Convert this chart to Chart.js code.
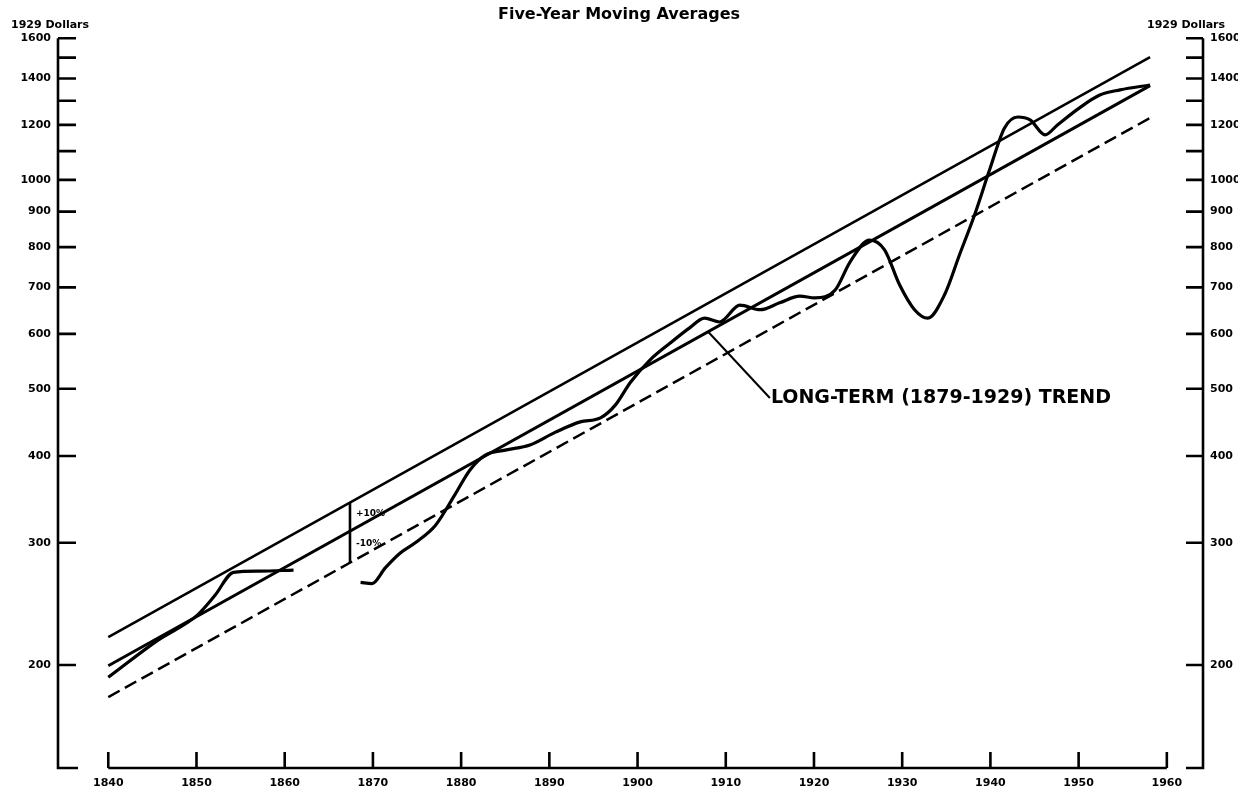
<!DOCTYPE html>
<html>
<head>
<meta charset="utf-8">
<title>Five-Year Moving Averages</title>
<script src="https://cdn.jsdelivr.net/npm/chart.js@4.4.0/dist/chart.umd.min.js"></script>
<style>
  html, body { margin: 0; padding: 0; background: #fff; }
  #wrap { width: 1238px; height: 794px; position: relative; }
</style>
</head>
<body>
<div id="wrap"><canvas id="chart"></canvas></div>
<script>
// five-year moving averages, 1929 dollars
const earlyYears = [1840, 1845.6, 1850.1, 1852.1, 1854.2, 1857.2, 1861.0];
const earlyValues = [192, 217, 236, 252, 272, 273, 274];

const lateYears = [1868.6, 1869.9, 1871.4, 1873.1, 1874.8, 1877.1, 1879.3, 1881.0, 1882.7, 1885.0,
  1887.8, 1890.7, 1893.5, 1895.8, 1897.5, 1899.2, 1901.4, 1903.7, 1905.9, 1907.6,
  1909.3, 1911.6, 1913.9, 1916.1, 1918.4, 1920.1, 1922.4, 1924.1, 1926.3, 1928.0,
  1929.7, 1931.4, 1932.9, 1934.8, 1936.5, 1938.2, 1939.9, 1941.6, 1943.1, 1944.5,
  1946.2, 1947.6, 1950.1, 1952.4, 1954.7, 1958.1];
const lateValues = [263, 262, 276, 290, 300, 318, 352, 382, 401, 408,
  415, 433, 448, 454, 474, 511, 550, 582, 612, 632,
  624, 660, 650, 665, 680, 676, 694, 762, 819, 793,
  706, 650, 632, 683, 780, 890, 1033, 1188, 1232, 1220,
  1161, 1200, 1270, 1325, 1348, 1370];

// long-term (1879-1929) trend and the +/-10% band, end points only
const trendYears = [1840, 1958.1];
const trendValues = [199.5, 1367];
const upperValues = [219.4, 1503];
const lowerValues = [179.8, 1228];

const decadeTicks = [1840, 1850, 1860, 1870, 1880, 1890, 1900, 1910, 1920, 1930, 1940, 1950, 1960];
const yTicks = [200, 300, 400, 500, 600, 700, 800, 900, 1000, 1100, 1200, 1300, 1400, 1500, 1600];
const yLabels = [200, 300, 400, 500, 600, 700, 800, 900, 1000, 1200, 1400, 1600];

const FONT = "'DejaVu Sans', sans-serif";

function pts(xs, ys) {
  return xs.map((x, i) => ({ x: x, y: ys[i] }));
}

// value on a straight (log) band line at year t
function onLine(vals, t) {
  const f = (t - trendYears[0]) / (trendYears[1] - trendYears[0]);
  return vals[0] * Math.pow(vals[1] / vals[0], f);
}

const series = pts(earlyYears, earlyValues).concat([{ x: 1865, y: null }], pts(lateYears, lateValues));

const decorations = {
  id: 'decorations',
  afterDraw(chart) {
    const { ctx, chartArea: a } = chart;
    const x = chart.scales.x, y = chart.scales.y;
    ctx.save();
    ctx.strokeStyle = '#000';
    ctx.fillStyle = '#000';
    ctx.lineWidth = 2.6;

    // value axes on both sides, ticks pointing inwards
    ctx.beginPath();
    ctx.moveTo(a.left + 20, a.bottom);
    ctx.lineTo(a.left, a.bottom);
    ctx.lineTo(a.left, a.top);
    ctx.moveTo(a.right - 17, a.bottom);
    ctx.lineTo(a.right, a.bottom);
    ctx.lineTo(a.right, a.top);
    yTicks.forEach(v => {
      const py = y.getPixelForValue(v);
      ctx.moveTo(a.left, py); ctx.lineTo(a.left + 18, py);
      ctx.moveTo(a.right, py); ctx.lineTo(a.right - 17, py);
    });
    // time axis
    const x0 = x.getPixelForValue(decadeTicks[0]);
    const x1 = x.getPixelForValue(decadeTicks[decadeTicks.length - 1]);
    ctx.moveTo(x0, a.bottom);
    ctx.lineTo(x1, a.bottom);
    decadeTicks.forEach(t => {
      const px = x.getPixelForValue(t);
      ctx.moveTo(px, a.bottom); ctx.lineTo(px, a.bottom - 16);
    });
    ctx.stroke();

    // +/-10% bracket
    const bt = 1867.4;
    const bx = x.getPixelForValue(bt);
    ctx.beginPath();
    ctx.moveTo(bx, y.getPixelForValue(onLine(upperValues, bt)));
    ctx.lineTo(bx, y.getPixelForValue(onLine(lowerValues, bt)));
    ctx.stroke();
    ctx.font = 'bold 9px ' + FONT;
    ctx.textBaseline = 'middle';
    ctx.textAlign = 'left';
    ctx.fillText('+10%', bx + 6, y.getPixelForValue(onLine(upperValues, bt + 0.8)) + 15);
    ctx.fillText('-10%', bx + 6, y.getPixelForValue(onLine(trendValues, bt + 0.8)) + 16);

    // trend label with leader
    const lt = 1908.0, tt = 1915.0, tv = 485;
    ctx.lineWidth = 2;
    ctx.beginPath();
    ctx.moveTo(x.getPixelForValue(lt), y.getPixelForValue(onLine(trendValues, lt)));
    ctx.lineTo(x.getPixelForValue(tt), y.getPixelForValue(tv));
    ctx.stroke();
    ctx.font = 'bold 19px ' + FONT;
    ctx.fillText('LONG-TERM (1879-1929) TREND', x.getPixelForValue(tt) + 1, y.getPixelForValue(tv));

    // unit captions
    ctx.font = 'bold 11px ' + FONT;
    ctx.fillText('1929 Dollars', 11, 25);
    ctx.fillText('1929 Dollars', 1147, 25);
    ctx.restore();
  }
};

const ctx = document.getElementById('chart').getContext('2d');
const chart = new Chart(ctx, {
  type: 'line',
  data: {
    datasets: [
      {
        label: 'Per capita',
        data: series,
        borderColor: '#000',
        borderWidth: 3.2,
        pointRadius: 0,
        cubicInterpolationMode: 'monotone',
        spanGaps: false
      },
      {
        label: 'Trend',
        data: pts(trendYears, trendValues),
        borderColor: '#000',
        borderWidth: 3,
        pointRadius: 0
      },
      {
        label: '+10%',
        data: pts(trendYears, upperValues),
        borderColor: '#000',
        borderWidth: 2.5,
        pointRadius: 0
      },
      {
        label: '-10%',
        data: pts(trendYears, lowerValues),
        borderColor: '#000',
        borderWidth: 2.5,
        borderDash: [13, 6],
        pointRadius: 0
      }
    ]
  },
  options: {
    responsive: true,
    maintainAspectRatio: false,
    animation: false,
    layout: { padding: 0 },
    plugins: {
      legend: { display: false },
      tooltip: { enabled: false },
      title: {
        display: true,
        text: 'Five-Year Moving Averages',
        color: '#000',
        font: { family: FONT, size: 16, weight: 'bold' },
        padding: { top: 5, bottom: 14 }
      }
    },
    scales: {
      x: {
        type: 'linear',
        min: 1834.3,
        max: 1964.1,
        afterBuildTicks: s => { s.ticks = decadeTicks.map(v => ({ value: v })); },
        afterFit: s => { s.height = 26; },
        grid: { display: false, drawTicks: false },
        border: { display: false },
        ticks: {
          autoSkip: false,
          maxRotation: 0,
          padding: 9,
          color: '#000',
          font: { family: FONT, size: 11, weight: 'bold' },
          callback: v => String(v)
        }
      },
      y: {
        type: 'logarithmic',
        position: 'left',
        min: 142.1,
        max: 1600,
        afterBuildTicks: s => { s.ticks = yTicks.map(v => ({ value: v })); },
        afterFit: s => { s.width = 58; },
        grid: { display: false, drawTicks: false },
        border: { display: false },
        ticks: {
          autoSkip: false,
          padding: 7,
          color: '#000',
          font: { family: FONT, size: 11, weight: 'bold' },
          callback: v => yLabels.includes(v) ? String(v) : ''
        }
      },
      y2: {
        type: 'logarithmic',
        position: 'right',
        min: 142.1,
        max: 1600,
        afterBuildTicks: s => { s.ticks = yTicks.map(v => ({ value: v })); },
        afterFit: s => { s.width = 35; },
        grid: { display: false, drawTicks: false },
        border: { display: false },
        ticks: {
          autoSkip: false,
          padding: 7,
          color: '#000',
          font: { family: FONT, size: 11, weight: 'bold' },
          callback: v => yLabels.includes(v) ? String(v) : ''
        }
      }
    }
  },
  plugins: [decorations]
});
</script>
</body>
</html>
